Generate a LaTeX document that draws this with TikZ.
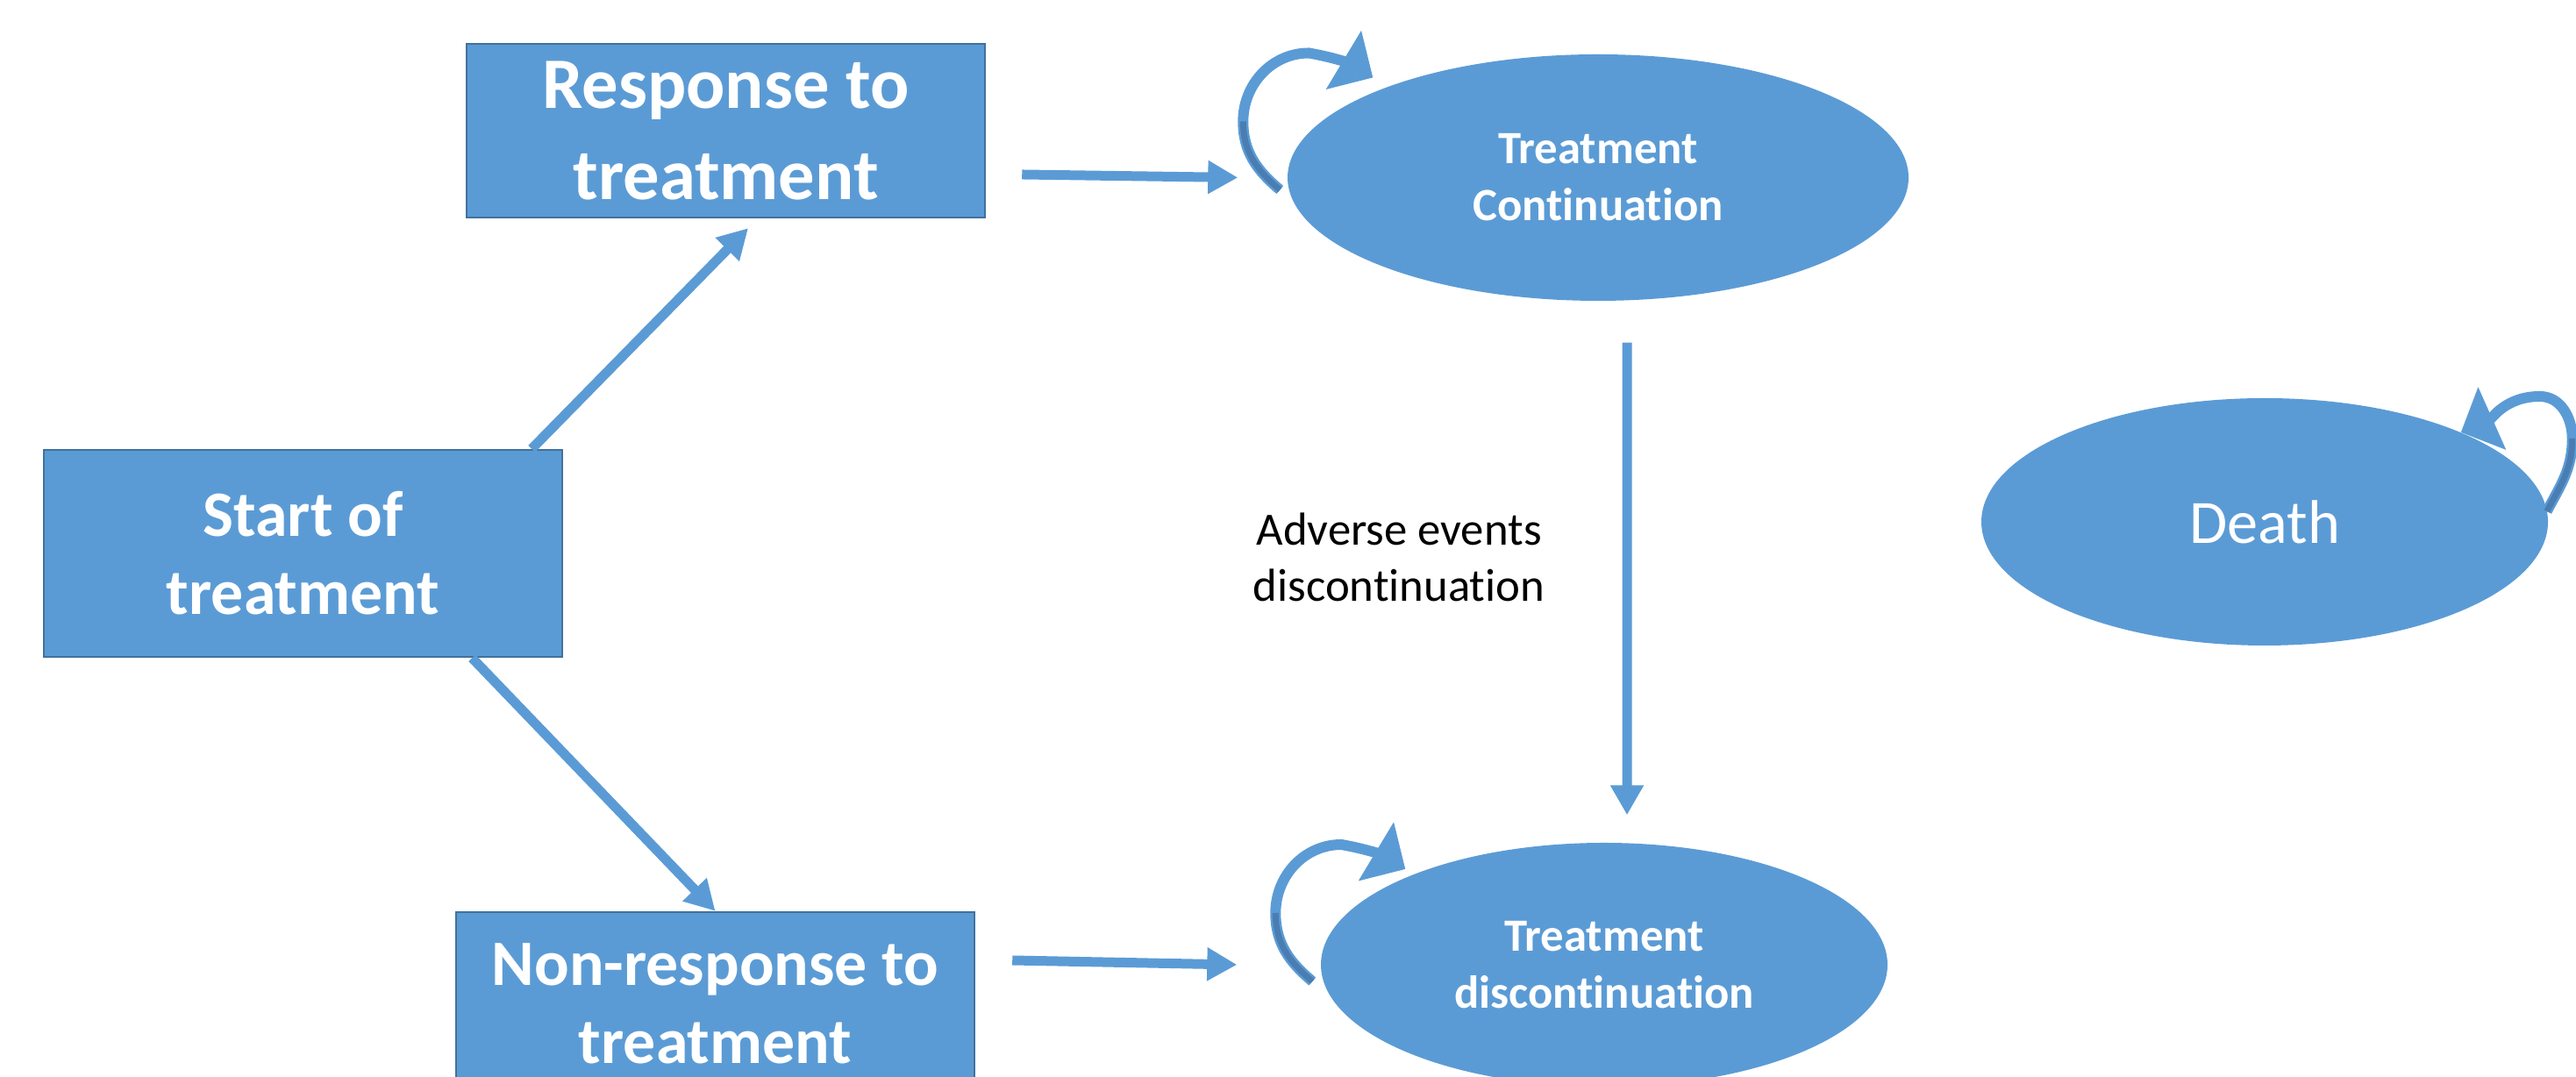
\documentclass[tikz,border=0pt]{standalone}
\usepackage{fontspec}
\setmainfont{Carlito}[Ligatures=NoCommon]
\usepackage{tikz}
\usetikzlibrary{shapes.geometric,arrows.meta}

\definecolor{boxblue}{RGB}{91,155,213}
\definecolor{edgeblue}{RGB}{65,113,156}
\definecolor{shadeblue}{RGB}{74,125,177}

\begin{document}
\begin{tikzpicture}[
  state/.style={rectangle,fill=boxblue,draw=edgeblue,line width=0.7pt,text=white,align=center,minimum width=5.91cm,inner sep=0pt},
  oval/.style={ellipse,fill=boxblue,text=white,align=center,inner sep=0pt},
  conn/.style={draw=boxblue,line width=0.11cm,-{Triangle[length=0.34cm,width=0.36cm]}},
  selfloop/.style={draw=boxblue,line width=0.12cm,-{Triangle[length=0.39cm,width=0.76cm]}},
  loopshade/.style={draw=shadeblue,line width=0.07cm}
]
%\draw[step=1cm,gray,very thin] (0,0) grid (29,12);
\useasboundingbox (0,0) rectangle (29.37,12.28);

\node[state,minimum height=2.36cm,font=\bfseries\fontsize{21}{25.3}\selectfont] (start) at (3.455,5.97) {Start of\\treatment};
\node[state,minimum height=1.98cm,font=\bfseries\fontsize{23.5}{29.6}\selectfont] (resp) at (8.275,10.79) {Response to\\treatment};
\node[state,minimum height=2.08cm,font=\bfseries\fontsize{21}{25.3}\selectfont] (nonresp) at (8.155,0.84) {Non-response to\\treatment};

\node[oval,minimum width=7.08cm,minimum height=2.81cm,font=\bfseries\fontsize{15}{18.5}\selectfont] (cont) at (18.22,10.255) {Treatment\\Continuation};
\node[oval,minimum width=6.46cm,minimum height=2.78cm,font=\bfseries\fontsize{15}{18.5}\selectfont] (disc) at (18.29,1.28) {Treatment\\discontinuation};
\node[oval,minimum width=6.46cm,minimum height=2.82cm,font=\fontsize{20}{24}\selectfont] (death) at (25.82,6.33) {Death};

\node[align=center,font=\fontsize{15}{18}\selectfont] (adverse) at (15.95,5.925) {Adverse events\\discontinuation};

\draw[conn] ([xshift=-0.36cm]start.north east) -- ([shift={(0.255,-0.11)}]resp.south);
\draw[conn] ([xshift=-1.04cm]start.south east) -- (nonresp.north);
\draw[conn] ([shift={(0.41,-0.50)}]resp.east) -- ([xshift=-0.56cm]cont.west);
\draw[conn] ([shift={(0.42,0.49)}]nonresp.east) -- ([xshift=-0.95cm]disc.west);
\draw[conn] ([shift={(0.33,-0.47)}]cont.south) -- ([shift={(0.26,0.31)}]disc.north);

% loops back into the same state
\draw[selfloop] ([shift={(-0.08,-0.14)}]cont.west) to[out=140,in=-90] ++(-0.42,0.78) to[out=90,in=180] ++(0.75,0.78) to[out=-10,in=149] ++(0.73,-0.28);
\draw[loopshade] ([shift={(-0.08,-0.14)}]cont.west) to[out=140,in=-90] ++(-0.42,0.78);

\draw[selfloop] ([shift={(-0.09,-0.19)}]disc.west) to[out=140,in=-90] ++(-0.42,0.78) to[out=90,in=180] ++(0.75,0.78) to[out=-10,in=149] ++(0.73,-0.28);
\draw[loopshade] ([shift={(-0.09,-0.19)}]disc.west) to[out=140,in=-90] ++(-0.42,0.78);

\draw[selfloop] ([shift={(-0.02,0.12)}]death.east) to[out=62,in=-90] ++(0.29,0.83) to[out=90,in=0] ++(-0.37,0.48) to[out=180,in=24] ++(-0.90,-0.41);
\draw[loopshade] ([shift={(-0.02,0.12)}]death.east) to[out=62,in=-90] ++(0.29,0.83);

\end{tikzpicture}
\end{document}
